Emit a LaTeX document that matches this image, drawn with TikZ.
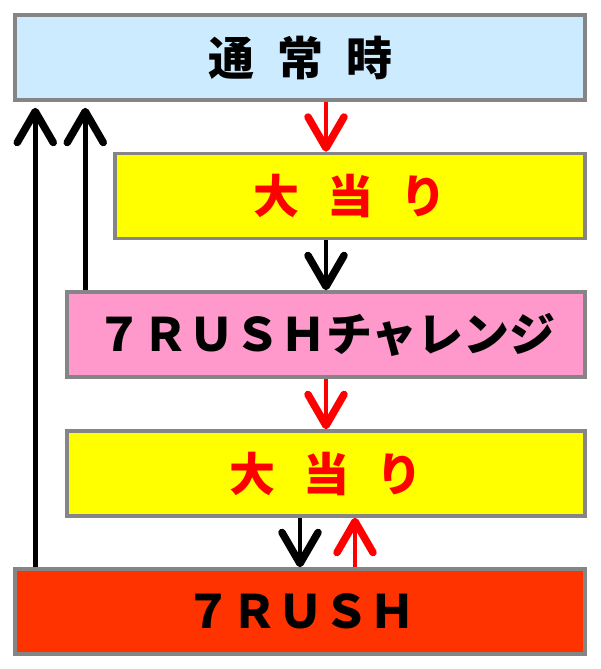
\documentclass[tikz,border=0pt]{standalone}
\usepackage{fontspec}
\setmainfont{Noto Sans CJK JP}
\usetikzlibrary{arrows.meta}

\definecolor{paleblue}{HTML}{CCEBFF}
\definecolor{hityellow}{HTML}{FFFF00}
\definecolor{chalpink}{HTML}{FF99CC}
\definecolor{rushred}{HTML}{FF3300}
\definecolor{edgegray}{HTML}{858585}

\begin{document}
\begin{tikzpicture}[x=1pt, y=-1pt,
        box/.style={draw=edgegray, line width=3.5pt, minimum height=85pt, inner sep=0pt,
            font=\fontsize{46}{50}\selectfont\bfseries},
        flow/.style={line width=4.5pt, -{Straight Barb[length=31pt,width=36pt,round,line width=7.5pt 0 0]}}]
        \useasboundingbox (0,0) rectangle (600,669);

        \node[box, fill=paleblue, minimum width=570pt] (Normal) at (300,57.5) {通\hspace{0.5em}常\hspace{0.5em}時};
        \node[box, fill=hityellow, text=red, minimum width=470pt] (HitOne) at (350,196) {大\hspace{0.6em}当\hspace{0.6em}り};
        \node[box, fill=chalpink, minimum width=518pt] (Challenge) at (326,334.5) {７ＲＵＳＨチャレンジ};
        \node[box, fill=hityellow, text=red, minimum width=518pt] (HitTwo) at (326,473.5) {大\hspace{0.6em}当\hspace{0.6em}り};
        \node[box, fill=rushred, minimum width=570pt] (Rush) at (300,611.5) {７ＲＵＳＨ};

        \draw[flow, red] (Normal.south -| Challenge) -- (HitOne.north -| Challenge);
        \draw[flow] (HitOne.south -| Challenge) -- (Challenge.north);
        \draw[flow, red] (Challenge.south) -- (HitTwo.north);
        \draw[flow] (HitTwo.south -| Rush) -- (Rush.north);
        \draw[flow, red] ([xshift=55pt]Rush.north) coordinate (back) -- (back |- HitTwo.south);

        \draw[flow, shorten >=6pt] ([xshift=22pt]Rush.north west) coordinate (left) -- (left |- Normal.south);
        \draw[flow, shorten >=6pt] ([xshift=20pt]Challenge.north west) coordinate (mid) -- (mid |- Normal.south);

    \end{tikzpicture}
\end{document}
